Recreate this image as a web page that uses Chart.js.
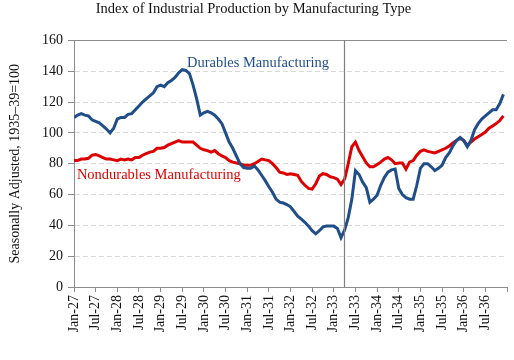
<!DOCTYPE html>
<html>
<head>
<meta charset="utf-8">
<script src="https://cdn.jsdelivr.net/npm/chart.js@4/dist/chart.umd.min.js"></script>
<style>
  html, body { margin: 0; padding: 0; background: #fff; }
  #wrap { width: 514px; height: 360px; }
</style>
</head>
<body>
<div id="wrap"><canvas id="myChart" width="514" height="360"></canvas></div>
<script>
// monthly index, Jan-1927 .. Dec-1936
const durables = [
  110, 111.5, 112.5, 111.5, 111, 108.5, 107.5, 106.5, 104.5, 102.5, 100, 103,
  109, 110, 110, 112, 112.5, 115, 117.5, 120, 122, 124, 126, 130,
  131, 130, 132.5, 134, 136, 139, 141, 140.5, 138.5, 131, 122, 111.5,
  113, 114, 113, 111.5, 109, 106, 100, 94, 90, 85, 80, 77.5,
  77, 77, 78.5, 76, 72.5, 69, 65, 61.5, 57, 55, 54.5, 53.5,
  52, 49, 46, 44, 42, 39.5, 36.5, 34.5, 36.5, 39, 39.5, 39.5,
  39.5, 38, 32, 37, 45, 57, 75.5, 73, 68, 64.5, 55, 57,
  59.5, 66, 71, 74.5, 76, 76.5, 64, 60, 58, 57, 57, 66,
  77, 80, 80, 78, 75.5, 77, 79, 84, 87, 91.5, 95, 97,
  95, 91, 95, 102, 106, 109, 111, 113, 115, 115, 119, 125
];
const nondurables = [
  82, 82, 83, 83, 83.5, 85.5, 86, 85, 84, 83, 83, 82.5,
  82, 83, 82.5, 83, 82.5, 84, 84, 85.5, 86.5, 87.5, 88, 90,
  90, 90.5, 92, 93, 94, 95, 94, 94, 94, 94, 92, 90,
  89, 88.5, 87.5, 88.5, 86.5, 85, 84, 82, 81, 80.5, 80, 79,
  79, 79, 80, 81.5, 83, 82.5, 82, 80, 77.5, 74.5, 74, 73,
  73.5, 73, 72.5, 68.5, 66, 64, 63.5, 67, 72, 73.5, 73, 71.5,
  71, 70, 66.5, 70, 80, 91, 94, 88.5, 84.5, 80.5, 78, 78,
  79.5, 81, 83, 84, 82.5, 80, 80.5, 80.5, 76.5, 81, 82, 85.5,
  88, 89, 88, 87.5, 87, 88, 89, 90, 91.5, 93.5, 95, 96.5,
  95, 92, 94, 96, 97.5, 99, 100.5, 103, 104.5, 106, 108, 111
];
const monthNames = ["Jan", "Jul"];
const startYear = 27;
const seriesNames = ["Durables Manufacturing", "Nondurables Manufacturing"];
const yTicks = [0, 20, 40, 60, 80, 100, 120, 140, 160];
const eventMonth = 74.8; // March 1933

const blue = "#1f4e89";
const red = "#dd0000";
const serif = "'Liberation Serif', 'Times New Roman', serif";

const toPoints = (arr) => arr.map((v, i) => ({ x: i, y: v }));

const tickLabel = (value) => {
  if (value >= 120) return "";
  const yr = startYear + Math.floor(value / 12);
  return monthNames[(value % 12) / 6] + "-" + yr;
};

const extras = {
  id: "extras",
  afterDatasetsDraw(chart) {
    const { ctx, chartArea, scales } = chart;
    ctx.save();
    // top border of plot
    ctx.strokeStyle = "#8c8c8c";
    ctx.lineWidth = 1;
    ctx.beginPath();
    ctx.moveTo(chartArea.left, Math.round(chartArea.top) + 0.5);
    ctx.lineTo(chartArea.right, Math.round(chartArea.top) + 0.5);
    ctx.stroke();
    // event line
    const ex = Math.round(scales.x.getPixelForValue(eventMonth)) + 0.5;
    ctx.strokeStyle = "#7f7f7f";
    ctx.lineWidth = 1.2;
    ctx.beginPath();
    ctx.moveTo(ex, chartArea.top);
    ctx.lineTo(ex, chartArea.bottom);
    ctx.stroke();
    // series labels
    ctx.font = "14.5px " + serif;
    ctx.textBaseline = "middle";
    ctx.textAlign = "left";
    ctx.fillStyle = blue;
    ctx.fillText(seriesNames[0], scales.x.getPixelForValue(31.3), scales.y.getPixelForValue(145));
    ctx.fillStyle = red;
    ctx.fillText(seriesNames[1], scales.x.getPixelForValue(0.8), scales.y.getPixelForValue(72.3));
    ctx.restore();
  },
};

const config = {
  type: "line",
  data: {
    datasets: [
      {
        label: seriesNames[0],
        data: toPoints(durables),
        borderColor: blue,
        borderWidth: 3,
        pointRadius: 0,
        tension: 0,
      },
      {
        label: seriesNames[1],
        data: toPoints(nondurables),
        borderColor: red,
        borderWidth: 3,
        pointRadius: 0,
        tension: 0,
      },
    ],
  },
  options: {
    responsive: false,
    animation: false,
    layout: { padding: { top: 0, right: 7, left: 0, bottom: 0 } },
    plugins: {
      legend: { display: false },
      tooltip: { enabled: false },
      title: {
        display: true,
        text: "Index of Industrial Production by Manufacturing Type",
        color: "#111",
        font: { family: serif, size: 14.5, weight: "normal" },
        padding: { top: 0, bottom: 23 },
      },
    },
    scales: {
      x: {
        type: "linear",
        min: 0,
        max: 120,
        afterFit: (scale) => {
          scale.height = 73;
          scale.paddingLeft = 0;
          scale.paddingRight = 0;
        },
        afterBuildTicks: (scale) => {
          const t = [];
          for (let v = 0; v <= 120; v += 6) t.push({ value: v });
          scale.ticks = t;
        },
        ticks: {
          callback: tickLabel,
          minRotation: 90,
          maxRotation: 90,
          autoSkip: false,
          color: "#111",
          padding: 3,
          font: { family: serif, size: 14 },
        },
        grid: {
          drawOnChartArea: false,
          drawTicks: true,
          tickLength: 5,
          tickColor: "#8c8c8c",
        },
        border: { color: "#8c8c8c", width: 1 },
      },
      y: {
        min: 0,
        max: 160,
        afterFit: (scale) => { scale.width = 74; },
        afterBuildTicks: (scale) => {
          scale.ticks = yTicks.map((v) => ({ value: v }));
        },
        ticks: {
          color: "#111",
          padding: 5,
          font: { family: serif, size: 14 },
        },
        title: {
          display: true,
          text: "Seasonally Adjusted, 1935\u201339=100",
          color: "#111",
          font: { family: serif, size: 14 },
          padding: { top: 7, bottom: 0 },
        },
        grid: {
          color: "#d9d9d9",
          tickColor: "#8c8c8c",
          tickLength: 6,
          drawTicks: true,
        },
        border: { color: "#8c8c8c", width: 1, dash: [5, 3] },
      },
    },
  },
  plugins: [extras],
};

new Chart(document.getElementById("myChart"), config);
</script>
</body>
</html>
